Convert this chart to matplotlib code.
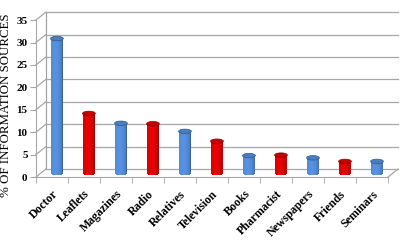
import matplotlib.pyplot as plt
import numpy as np
from matplotlib.patches import Ellipse
from matplotlib.transforms import ScaledTranslation

plt.rcParams['font.family'] = ['Liberation Serif', 'DejaVu Serif']

# Data
sources = ['Doctor', 'Leaflets', 'Magazines', 'Radio', 'Relatives', 'Television',
           'Books', 'Pharmacist', 'Newspapers', 'Friends', 'Seminars']
percent = [30.0, 13.3, 11.1, 11.0, 9.3, 7.1, 3.9, 4.0, 3.4, 2.6, 2.6]
yticks = [0, 5, 10, 15, 20, 25, 30, 35]
blue = np.array([0.29, 0.49, 0.76])
red = np.array([0.78, 0.0, 0.0])

fig = plt.figure(figsize=(4.08, 2.48), dpi=100)
ax = fig.add_axes([0.088, 0.286, 0.863, 0.633])
ax.set_xlim(-0.5, len(sources) - 0.5)
ax.set_ylim(0, 35)

# pseudo-3d offsets (in pixels)
px = 1 / 100
back = ax.transData + ScaledTranslation(10 * px, 8 * px, fig.dpi_scale_trans)
mid = ax.transData + ScaledTranslation(5 * px, 4 * px, fig.dpi_scale_trans)
grid_c = '#a6a6a6'
x0, x1 = -0.5, len(sources) - 0.5
inv = ax.transData.inverted()

# back wall grid + side wall diagonals
for yv in yticks:
    ax.plot([x0, x1], [yv, yv], color=grid_c, lw=0.9, transform=back, clip_on=False, zorder=1)
    b = inv.transform(back.transform((x0, yv)))
    ax.plot([x0, b[0]], [yv, b[1]], color=grid_c, lw=0.9, clip_on=False, zorder=1)
ax.plot([x0, x0], [0, 35], color=grid_c, lw=0.9, transform=back, clip_on=False, zorder=1)

# floor right edge
fr = inv.transform(back.transform((x1, 0)))
ax.plot([x1, fr[0]], [0, fr[1]], color=grid_c, lw=0.9, clip_on=False, zorder=1)

# cylinders
bw = 0.4
n_strips = 15
eh = 1.0
ts = np.linspace(-1, 1, n_strips + 1)
for i, v in enumerate(percent):
    base = blue if i % 2 == 0 else red
    for k in range(n_strips):
        t = 0.5 * (ts[k] + ts[k + 1])
        s = 0.62 + 0.55 * np.sqrt(max(0.0, 1 - ((t + 0.2) / 1.2) ** 2))
        col = np.clip(base * s, 0, 1)
        depth = eh / 2 * np.sqrt(max(0.0, 1 - t ** 2))
        left = i - bw / 2 + bw * (k / n_strips)
        ax.bar(left, v + depth, width=bw / n_strips, bottom=-depth, align='edge',
               color=col, lw=0, transform=mid, zorder=3, clip_on=False)
    ax.add_patch(Ellipse((i, v), bw, eh, facecolor=np.clip(base * 1.0, 0, 1),
                         edgecolor=np.clip(base * 0.7, 0, 1), lw=0.5,
                         transform=mid, zorder=4, clip_on=False))

# axes styling
for side in ['top', 'right']:
    ax.spines[side].set_visible(False)
ax.spines['left'].set_color(grid_c)
ax.spines['bottom'].set_color(grid_c)
ax.set_yticks(yticks)
ax.set_yticklabels([str(y) for y in yticks], fontsize=8, fontweight='bold')
ax.tick_params(axis='y', length=4, color=grid_c, pad=2)
ax.set_xticks(range(len(sources)))
ax.set_xticklabels(sources, rotation=45, ha='right', va='top', rotation_mode='anchor',
                   fontsize=8.5, fontweight='bold')
ax.tick_params(axis='x', which='major', length=0, pad=8)
ax.set_xticks(np.arange(len(sources) + 1) - 0.5, minor=True)
ax.tick_params(axis='x', which='minor', length=4, color=grid_c)
ax.set_ylabel('% OF INFORMATION SOURCES', fontsize=9.3)
ax.yaxis.set_label_coords(-0.068, 0.46)
ax.patch.set_visible(False)

fig.savefig('out.png', dpi=100)
